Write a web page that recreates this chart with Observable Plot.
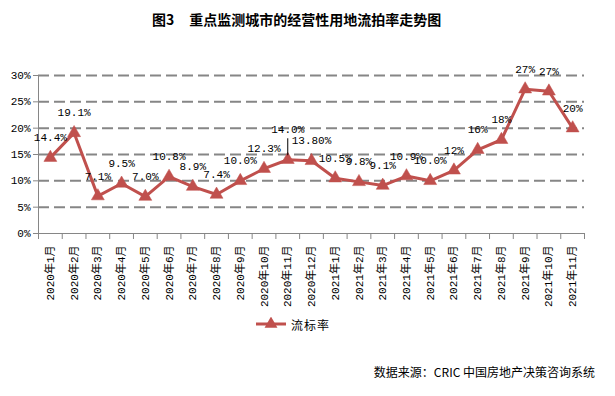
<!DOCTYPE html>
<html><head><meta charset="utf-8">
<script src="https://cdn.jsdelivr.net/npm/d3@7"></script>
<script src="https://cdn.jsdelivr.net/npm/@observablehq/plot@0.6"></script>
<style>
body{margin:0;background:#fff;}
#wrap{position:relative;width:615px;height:396px;overflow:hidden;background:#fff;}
#chart{position:absolute;left:0;top:0;}
#title{position:absolute;left:152px;top:11px;font:bold 14px "Noto Sans CJK SC",sans-serif;line-height:16px;white-space:nowrap;color:#000;}
#legend{position:absolute;left:256px;top:316px;height:16px;display:flex;align-items:center;font:12px "Noto Sans CJK SC",sans-serif;color:#000;}
#legend span{margin-left:5px;letter-spacing:1px;}
#source{position:absolute;right:20px;top:364px;font:12px "Noto Sans CJK SC",sans-serif;line-height:16px;white-space:nowrap;color:#000;}
</style></head><body>
<div id="wrap">
  <div id="chart"></div>
  <div id="title">图3<span style="display:inline-block;width:15px"></span>重点监测城市的经营性用地流拍率走势图</div>
  <div id="legend"></div>
  <div id="source">数据来源：CRIC 中国房地产决策咨询系统</div>
</div>
<script>
const months = ["2020年1月","2020年2月","2020年3月","2020年4月","2020年5月","2020年6月","2020年7月","2020年8月","2020年9月","2020年10月","2020年11月","2020年12月","2021年1月","2021年2月","2021年3月","2021年4月","2021年5月","2021年6月","2021年7月","2021年8月","2021年9月","2021年10月","2021年11月"];
const values = [14.4,19.1,7.1,9.5,7.0,10.8,8.9,7.4,10.0,12.3,14.0,13.8,10.5,9.8,9.1,10.9,10.0,12.0,15.9,17.8,27.4,27.0,20.0];
const labels = ["14.4%","19.1%","7.1%","9.5%","7.0%","10.8%","8.9%","7.4%","10.0%","12.3%","14.0%","13.80%","10.5%","9.8%","9.1%","10.9%","10.0%","12%","16%","18%","27%","27%","20%"];
const yTicks = [0,5,10,15,20,25,30];
const gridTicks = [5,10,15,20,25,30];
const seriesName = "流标率";
const leaderIndex = 10;

const RED = "#C0504D";
const GRAY = "#868686";
const data = months.map((m, i) => ({i, month: m, value: values[i], label: labels[i]}));
const idx = d3.range(months.length);
const bounds = d3.range(months.length + 1).map(i => i - 0.5);
const monoFont = '"Liberation Mono","Noto Sans CJK SC",monospace';

const chart = Plot.plot({
  width: 615,
  height: 396,
  marginLeft: 38,
  marginRight: 31,
  marginTop: 75,
  marginBottom: 163,
  style: {background: "white", fontFamily: monoFont, fontSize: "11px", color: "black"},
  x: {domain: [-0.5, months.length - 0.5], axis: null, label: null},
  y: {domain: [0, 30], axis: null, label: null},
  marks: [
    Plot.ruleY(gridTicks, {stroke: GRAY, strokeWidth: 2, strokeDasharray: "11,5"}),
    Plot.ruleY([0], {stroke: GRAY, strokeWidth: 1}),
    Plot.ruleX([-0.5], {stroke: GRAY, strokeWidth: 1}),
    Plot.axisY({ticks: yTicks, tickSize: 5, tickPadding: 3, tickFormat: d => d + "%", label: null, stroke: GRAY, fill: "black", fontFamily: monoFont, fontSize: 11}),
    Plot.axisX({ticks: bounds, tickSize: 6, tickFormat: () => "", label: null, stroke: GRAY}),
    Plot.axisX({ticks: idx, tickSize: 0, tickPadding: 12, tickRotate: -90, tickFormat: i => months[i], label: null, fill: "black", fontFamily: monoFont, fontSize: 11}),
    Plot.line(data, {x: "i", y: "value", stroke: RED, strokeWidth: 3}),
    Plot.dot(data, {x: "i", y: "value", symbol: "triangle", r: 4.8, fill: RED, stroke: RED, strokeWidth: 0.5}),
    Plot.ruleX(data.filter(d => d.i === leaderIndex), {x: "i", y1: "value", y2: "value", insetTop: -21, insetBottom: 4, stroke: "black", strokeWidth: 1}),
    Plot.text(data.filter(d => d.i !== leaderIndex), {x: "i", y: "value", text: "label", dy: -20, fill: "black", fontFamily: monoFont, fontSize: 11}),
    Plot.text(data.filter(d => d.i === leaderIndex), {x: "i", y: "value", text: "label", dy: -30, fill: "black", fontFamily: monoFont, fontSize: 11})
  ]
});
document.getElementById("chart").appendChild(chart);

const legend = document.getElementById("legend");
legend.innerHTML = `<svg width="30" height="14"><line x1="0" x2="30" y1="7" y2="7" stroke="${RED}" stroke-width="3"/><path d="${d3.symbol(d3.symbolTriangle, 72)()}" transform="translate(15,7)" fill="${RED}"/></svg><span>${seriesName}</span>`;
</script>
</body></html>
